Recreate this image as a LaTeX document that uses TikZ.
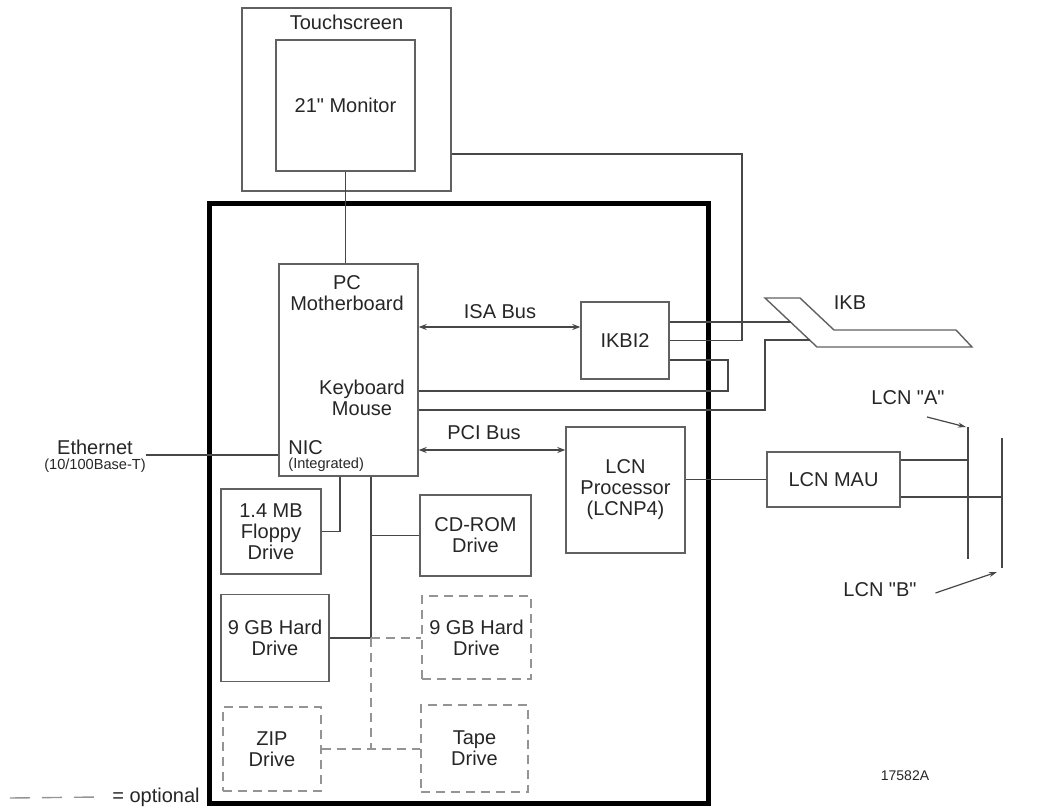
\documentclass[tikz,border=0pt]{standalone}
\usepackage{fontspec}
\setmainfont{Liberation Sans}[Ligatures=TeXOff]
\usetikzlibrary{arrows.meta}

\begin{document}
\begin{tikzpicture}[x=0.5pt, y=-0.5pt,
    every node/.style={font=\fontsize{10}{10.5}\selectfont, inner sep=0pt, align=center, text=black!85},
    note/.style={font=\fontsize{7.3}{8}\selectfont},
    box/.style={draw=black!62, line width=0.7pt},
    obox/.style={box, draw=black!42, dash pattern=on 4.5pt off 3pt},
    wire/.style={draw=black!72, line width=0.6pt},
    owire/.style={draw=black!42, line width=0.7pt, dash pattern=on 4.5pt off 3pt},
    biarr/.style={wire, {Stealth[length=4pt,width=3pt]}-{Stealth[length=4pt,width=3pt]}},
    arr/.style={wire, -{Stealth[length=4pt,width=2.5pt]}},
]
\useasboundingbox (0,0) rectangle (1062,809);

% display
\node[box, minimum width=104.5pt, minimum height=91.5pt,
      label={[anchor=north, yshift=-3.75pt]north:Touchscreen}] (touch) at (346.5,99.5) {};
\node[box, minimum width=69.5pt, minimum height=65.5pt] (mon) at (345.5,105.5) {21" Monitor};

% cabinet
\node[draw=black, line width=2.5pt, minimum width=249.5pt, minimum height=300pt] (chassis) at (458.5,503) {};

\node[box, minimum width=69.5pt, minimum height=106pt] (mb) at (348.5,370) {};
\node (mbname) at (347,293) {PC\\Motherboard};
\node (kbd) at (362,397.5) {Keyboard\\Mouse};
\node[anchor=west] (nic) at (288,448) {NIC};
\node[anchor=west, note] (integ) at (288,465) {(Integrated)};

\node[box, minimum width=44pt, minimum height=38.5pt] (ikbi) at (625,340.5) {IKBI2};
\node[box, minimum width=59.5pt, minimum height=63pt] (lcnp) at (625.5,490) {LCN\\Processor\\(LCNP4)};
\node[box, minimum width=66.5pt, minimum height=27.5pt] (mau) at (833.5,479.5) {LCN MAU};

\node[box, minimum width=50pt, minimum height=42.5pt] (floppy) at (271,531.5) {1.4 MB\\Floppy\\Drive};
\node[box, minimum width=55.5pt, minimum height=40.5pt] (cdrom) at (475.5,535.5) {CD-ROM\\Drive};
\node[box, minimum width=54pt, minimum height=43.5pt] (hdA) at (275,638) {9 GB Hard\\Drive};
\node[obox, minimum width=54.5pt, minimum height=41.5pt] (hdB) at (476.5,637.5) {9 GB Hard\\Drive};
\node[obox, minimum width=49pt, minimum height=42pt] (zip) at (272,749) {ZIP\\Drive};
\node[obox, minimum width=53.5pt, minimum height=43.5pt] (tape) at (474.5,748.5) {Tape\\Drive};

% labels
\node (eth) at (95,447) {Ethernet};
\node[note] (ethsub) at (95,466) {(10/100Base-T)};
\node (isa) at (500,312) {ISA Bus};
\node (pci) at (484,433) {PCI Bus};
\node (ikb) at (850,303) {IKB};
\node (lcnA) at (908,398) {LCN "A"};
\node (lcnB) at (880,590) {LCN "B"};
\node[font=\fontsize{7}{8}\selectfont] (fig) at (905,776) {17582A};
\node[anchor=west] (optl) at (112,797) {= optional};

% keyboard cable
\draw[box] (765,298) -- (800,298) -- (834,330) -- (956,330) -- (972,347) -- (817,347) -- cycle;
\coordinate (ikbP) at (790.5,322);
\coordinate (ikbQ) at (809.6,340);

\coordinate (tsR) at (touch.east |- 0,154);
\coordinate (jT) at (742,340.5);
\coordinate (ethR) at (ethsub.east |- 0,455);
\coordinate (busT) at (mb.south -| 371,0);
\coordinate (busH) at (hdA.east -| busT);
\coordinate (busZ) at (zip.east -| busT);
\coordinate (aT) at (968,427);
\coordinate (aB) at (968,559);
\coordinate (bT) at (1002,438);
\coordinate (bB) at (1002,568);
\coordinate (legS) at (10,798);

\draw[wire] (mon.south) -- (mon.south |- mb.north);
\draw[wire] (tsR) -| (jT) -- (ikbi.east);
\draw[wire] (ikbi.east |- ikbP) -- (ikbP);
\draw[wire] (ikbi.east |- 0,360) -| (728,391) -- (mb.east |- 0,391);
\draw[wire] (mb.east |- 0,410) -| (765,340) -- (ikbQ);
\draw[biarr] (mb.east |- 0,327) -- (ikbi.west |- 0,327);
\draw[biarr] (mb.east |- 0,450) -- (lcnp.west |- 0,450);
\draw[wire] (ethR) -- (ethR -| mb.west);

\draw[wire] (floppy.east) -| (mb.south -| 340,0);
\draw[wire] (busT) -- (busH) -- (hdA.east);
\draw[wire] (cdrom.west) -- (cdrom.west -| busT);
\draw[owire] (busH) -- (hdB.west |- busH);
\draw[owire] (busH) -- (busZ);
\draw[owire] (zip.east) -- (zip.east -| tape.west);

\draw[wire] (mau.west) -- (mau.west -| lcnp.east);
\draw[wire] (aT) -- (aB);
\draw[wire] (bT) -- (bB);
\draw[wire] (mau.east |- 0,460) -- (aT |- 0,460);
\draw[wire] (mau.east |- 0,497) -- (bT |- 0,497);
\draw[arr] ([xshift=9.5pt,yshift=-5.75pt]lcnA.south) -- ([xshift=-1pt]aT);
\draw[arr] ([xshift=9.25pt,yshift=-1.5pt]lcnB.east) -- ([xshift=-2.5pt,yshift=-2pt]bB);

\draw[owire, dash pattern=on 10pt off 6pt] (legS) -- ([xshift=-6pt]optl.west);
\end{tikzpicture}
\end{document}
